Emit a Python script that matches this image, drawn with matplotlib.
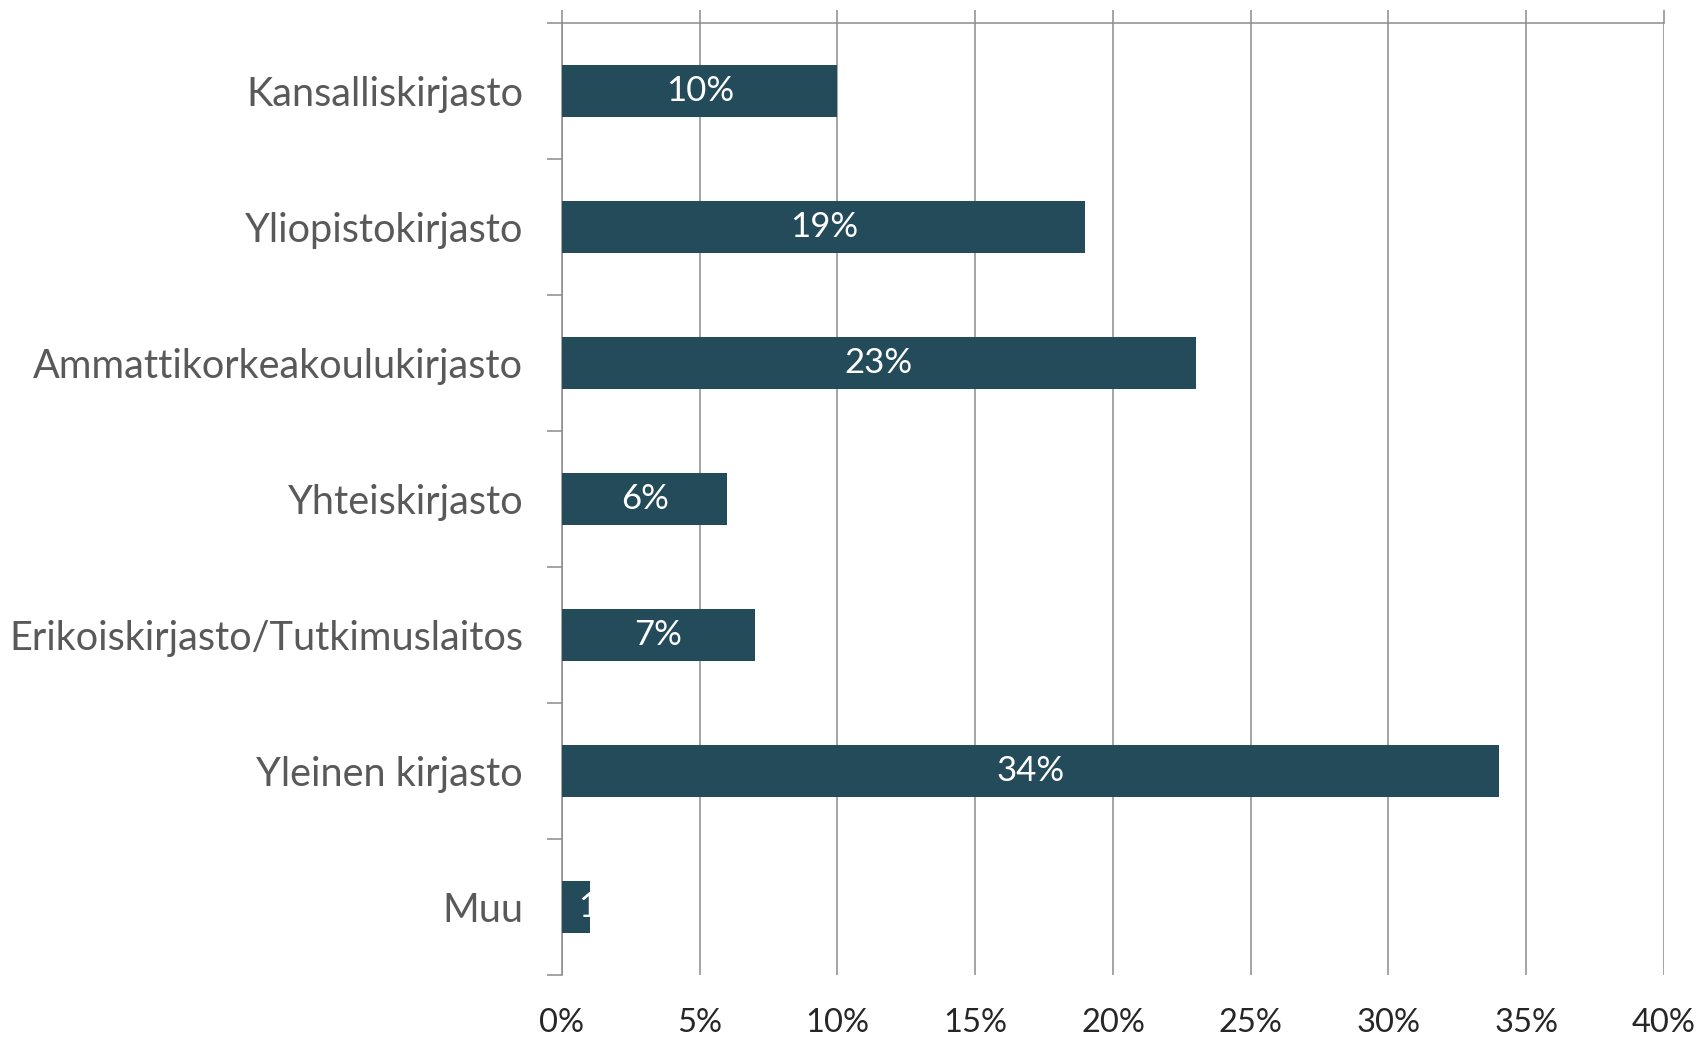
import numpy as np
import matplotlib.pyplot as plt

# data
categories = ['Kansalliskirjasto', 'Yliopistokirjasto', 'Ammattikorkeakoulukirjasto',
              'Yhteiskirjasto', 'Erikoiskirjasto/Tutkimuslaitos', 'Yleinen kirjasto', 'Muu']
values = [10, 19, 23, 6, 7, 34, 1]
xticks = [0, 5, 10, 15, 20, 25, 30, 35, 40]

bar_color = '#234B5A'
axis_gray = '#8C8C8C'

plt.rcParams['font.family'] = ['Lato', 'DejaVu Sans']

fig = plt.figure(figsize=(17.04, 10.4), dpi=100)
ax = fig.add_axes([0.3298, 0.0625, 0.9765 - 0.3298, 0.9779 - 0.0625])

y = np.arange(len(categories))
bars = ax.barh(y, values, height=0.38, color=bar_color, zorder=3)

# value labels, clipped to the bar like in the original
for rect, v in zip(bars, values):
    if v < 3:
        t = ax.text(v * 0.58, rect.get_y() + rect.get_height() / 2, f'{v}%',
                    ha='left', va='center', color='white', fontsize=25, zorder=4)
    else:
        t = ax.text(v / 2, rect.get_y() + rect.get_height() / 2, f'{v}%',
                    ha='center', va='center', color='white', fontsize=25, zorder=4)
    t.set_clip_path(rect)

ax.set_xlim(0, 40)
ax.set_ylim(len(categories) - 0.5, -0.5)

# x axis: line and ticks on top, labels at bottom
ax.set_xticks(xticks)
ax.set_xticklabels([f'{t}%' for t in xticks])
ax.tick_params(axis='x', top=True, bottom=False, labeltop=False, labelbottom=True,
               direction='out', length=9.5, width=1.1, color=axis_gray,
               labelsize=23.5, labelcolor='#262626', pad=14)
ax.xaxis.grid(True, color=axis_gray, linewidth=1.1, zorder=0)

# y axis: ticks between categories, labels at category centres
ax.set_yticks(np.arange(len(categories) + 1) - 0.5)
ax.set_yticklabels([])
ax.set_yticks(y, minor=True)
ax.set_yticklabels(categories, minor=True)
ax.tick_params(axis='y', which='major', direction='out', length=11, width=1.1, color=axis_gray)
ax.tick_params(axis='y', which='minor', length=0, labelsize=28.5, labelcolor='#595959', pad=28)

for side in ['bottom', 'right']:
    ax.spines[side].set_visible(False)
for side in ['top', 'left']:
    ax.spines[side].set_color(axis_gray)
    ax.spines[side].set_linewidth(1.1)

fig.savefig('out.png', dpi=100)
